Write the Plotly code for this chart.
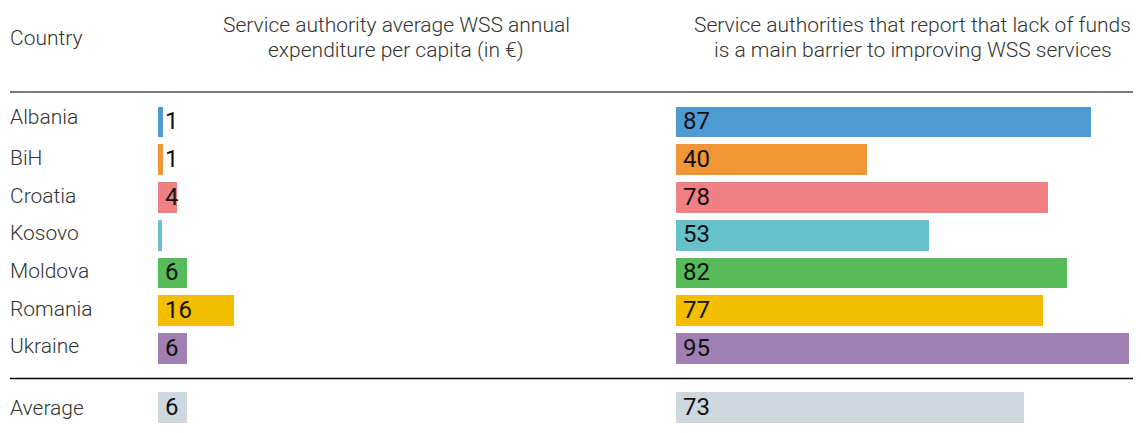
import plotly.graph_objects as go

countries = ["Albania", "BiH", "Croatia", "Kosovo", "Moldova", "Romania", "Ukraine", "Average"]
expenditure = [1, 1, 4, 0.8, 6, 16, 6, 6]
expenditure_labels = ["1", "1", "4", "", "6", "16", "6", "6"]
lack_funds = [87, 40, 78, 53, 82, 77, 95, 73]
lack_funds_labels = ["87", "40", "78", "53", "82", "77", "95", "73"]
colors = ["#4E9BD4", "#F09637", "#F08083", "#66C1CB", "#57BB59", "#F4BE00", "#A07FB3", "#CDD8DE"]

header_country = "Country"
header_left = ["Service authority average WSS annual", "expenditure per capita (in €)"]
header_right = ["Service authorities that report that lack of funds", "is a main barrier to improving WSS services"]

OFF = 8  # page body margin
W, H = 1141 - OFF, 433 - OFF


def fx(px):
    return (px - OFF) / W


def fy(py):
    return 1 - (py - OFF) / H


rows = list(range(7)) + [7.563]
label_shift = [5, 2, 2, 2, 2, 2, 3, 0]

fig = go.Figure()
fig.add_trace(go.Bar(x=expenditure, y=rows, orientation="h", marker=dict(color=colors, line=dict(width=0)),
                     width=0.82, xaxis="x", yaxis="y", hoverinfo="skip"))
fig.add_trace(go.Bar(x=lack_funds, y=rows, orientation="h", marker=dict(color=colors, line=dict(width=0)),
                     width=0.82, xaxis="x2", yaxis="y", hoverinfo="skip"))

px_per_unit = 4.77
annotations = []
font_c = dict(family="Roboto", size=21, color="#333333", weight=300)
font_v = dict(family="Roboto", size=24, color="#111111")
for r, c, l1, l2, s in zip(rows, countries, expenditure_labels, lack_funds_labels, label_shift):
    annotations.append(dict(x=fx(8), xref="paper", y=r, yref="y", text=c, showarrow=False,
                            xanchor="left", yanchor="middle", yshift=s, font=font_c))
    if l1:
        annotations.append(dict(x=0, xref="x", y=r, yref="y", text=l1, showarrow=False,
                                xanchor="left", yanchor="middle", xshift=5, yshift=1, font=font_v))
    annotations.append(dict(x=0, xref="x2", y=r, yref="y", text=l2, showarrow=False,
                            xanchor="left", yanchor="middle", xshift=5, yshift=1, font=font_v))

annotations.append(dict(x=fx(8), xref="paper", y=fy(38), yref="paper", text=header_country,
                        showarrow=False, xanchor="left", yanchor="middle", font=font_c))
for i, t in enumerate(header_left):
    annotations.append(dict(x=fx(396), xref="paper", y=fy(25 + 25 * i), yref="paper", text=t,
                            showarrow=False, xanchor="center", yanchor="middle", font=font_c))
for i, t in enumerate(header_right):
    annotations.append(dict(x=fx(913), xref="paper", y=fy(25 + 25 * i), yref="paper", text=t,
                            showarrow=False, xanchor="center", yanchor="middle", font=font_c))

shapes = [
    dict(type="line", xref="paper", yref="paper", x0=fx(10), x1=1, y0=fy(92), y1=fy(92),
         line=dict(color="#7a7a7a", width=2)),
    dict(type="line", xref="paper", yref="paper", x0=fx(10), x1=1, y0=fy(378.5), y1=fy(378.5),
         line=dict(color="#000000", width=1.5)),
]

y0_px, dy = 122 - OFF, 37.75
fig.update_layout(
    width=W, height=H, margin=dict(l=0, r=0, t=0, b=0),
    paper_bgcolor="white", plot_bgcolor="white", showlegend=False, bargap=0,
    xaxis=dict(domain=[fx(158), fx(660)], range=[0, (660 - 158) / px_per_unit], visible=False, fixedrange=True),
    xaxis2=dict(domain=[fx(676), 1.0], range=[0, (1141 - 676) / px_per_unit], visible=False, fixedrange=True),
    yaxis=dict(domain=[0, 1], range=[(H - y0_px) / dy, -y0_px / dy], visible=False, fixedrange=True),
    annotations=annotations, shapes=shapes,
)
fig.write_html("out.html")
